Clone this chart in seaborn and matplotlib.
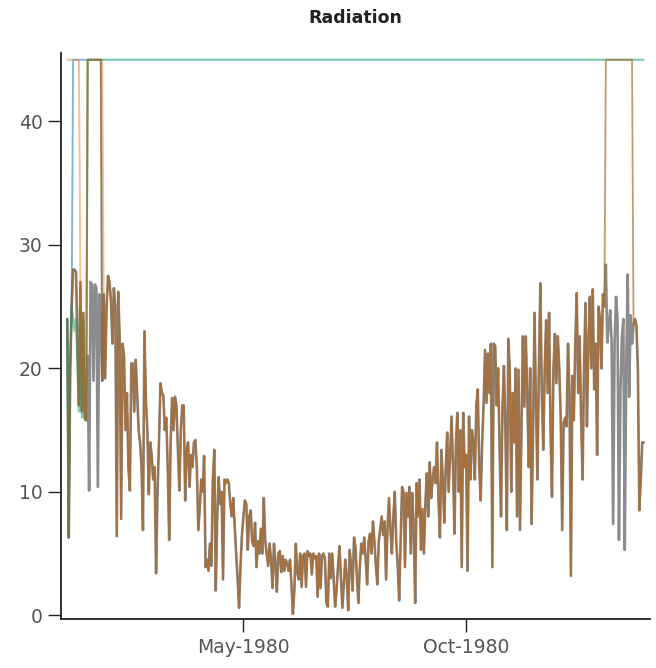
import numpy as np
import pandas as pd
import matplotlib
matplotlib.use("Agg")
import matplotlib.pyplot as plt
import matplotlib.dates as mdates
import seaborn as sns

# ---------------------------
# Data (daily radiation)
# ---------------------------

start_date = "1980-01-01"
cap_value = 45

jan_1980 = [24, 6.3, 20, 25, 28, 28, 27.8, 22, 17, 27, 16.5, 24.5, 16, 15.8, 21,
            10.1, 27, 26.8, 19, 26.8, 26.5, 10.4, 26, 24, 19, 26, 19.2, 25, 27.5, 27, 25.5]
feb_1980 = [22, 26.5, 25, 6.4, 26.2, 22.4, 7.8, 22, 21, 15, 18, 12, 10.1, 20.4, 20.4,
            16.5, 20.7, 18, 15, 14, 12, 6.9, 23, 17.5, 15, 9.8, 14, 12.9, 11]
mar_1980 = [12, 3.4, 10, 14, 18.8, 18, 17.8, 15, 16, 12, 6.1, 14, 17.6, 15, 17.7,
            17, 13.4, 10.1, 15, 17, 17, 9.3, 13.4, 14, 10.4, 13, 12, 14, 14.2, 12, 6.9]
apr_1980 = [8.6, 11, 10, 12.9, 3.9, 4.5, 3.6, 5.8, 4, 11, 13.4, 2, 8, 11.2, 9,
            10, 2.9, 11, 10.7, 11, 10.7, 9, 8, 9.5, 7.2, 5, 3, 0.6, 4, 6.5]
may_1980 = [8, 9.3, 9, 5.3, 8, 8.5, 6, 5.6, 7.5, 3.9, 6, 5, 7, 5, 9.5,
            6, 5, 4, 5.8, 4.5, 2.2, 5.8, 4.2, 1.9, 5, 5.2, 3.5, 4.8, 3.6, 4.5, 4.2]
jun_1980 = [3.6, 4.5, 2.5, 0.1, 2, 5.8, 3.5, 2.9, 5, 2.3, 4.8, 5, 2.3, 5.2, 4.8,
            5, 3.3, 5, 4.6, 4.8, 1.5, 5, 2.2, 4.8, 5, 4.6, 1, 0.7, 5, 3]
jul_1980 = [5, 3, 0.7, 2, 4, 5.6, 3, 0.6, 2.5, 4.5, 3, 0.4, 5.3, 4, 2,
            6.3, 5.5, 3, 1, 4, 5.8, 5, 6.3, 4.5, 2.5, 6, 6.6, 5, 7.6, 6, 4]
aug_1980 = [2.5, 6, 7, 8, 6.5, 7.6, 2.9, 7, 9.5, 7, 5, 8, 10, 6, 4,
            1.2, 6, 10.4, 10, 3.9, 9.9, 8, 10.4, 5, 9.9, 7, 1, 10.7, 8, 11, 5.3]
sep_1980 = [8.6, 5, 9, 11.5, 8, 12.4, 9.5, 11, 12, 10.7, 14, 9.5, 6.3, 13.4, 11,
            7.5, 12, 14.8, 10, 13, 16.1, 12, 6.6, 14, 16.4, 10, 15, 3.9, 16.4, 12]
oct_1980 = [13, 3.6, 16.1, 11, 15, 14, 11, 17, 18.3, 12, 9.3, 14, 17, 21.5, 17.2,
            21.2, 18, 22, 3.9, 22, 21.8, 17, 20, 13.4, 8, 17, 20.2, 15, 6.9, 22.4, 19.9]
nov_1980 = [10, 18, 14, 20, 8, 19.9, 6.9, 15, 22.6, 16.9, 22.6, 18, 12, 20, 7.4,
            15, 24.5, 17, 11, 20, 26.9, 18, 13.4, 20, 23.9, 18, 24.5, 15, 9.6, 20]
dec_1980 = [22.8, 18.8, 22.6, 20, 16, 6.9, 15.6, 16, 15.3, 22, 18, 3.2, 19.4, 15.8, 22,
            26.1, 18, 22.6, 16, 11, 20, 25.3, 15.3, 22, 25.8, 20, 26.4, 18.3, 22, 13, 25]
jan_1981 = [24, 20, 26, 25, 28.4, 22.1, 23.5, 24.7, 22, 7.4, 22, 25.8, 24, 6.1, 18,
            22.5, 24, 5.3, 20, 27.6, 17.7, 24.3, 22, 23.5, 24, 23.5, 20, 8.5, 11, 14, 14]

# early days of the green series, before it sits at the cap
teal_early = [24, 6.3, 20, 25, 24, 23, 24, 20, 16.5, 24.8, 16, 24, 15.8, 15.8]

# day ranges (inclusive) where each series sits at the cap value
blue_cap_spans = [(4, 23)]
peach_cap_spans = [(0, 8), (14, 24)]
brown_cap_spans = [(14, 23), (370, 388)]
short_series_days = 27

# ---------------------------
# Build series
# ---------------------------

radiation = np.array(jan_1980 + feb_1980 + mar_1980 + apr_1980 + may_1980 + jun_1980
                     + jul_1980 + aug_1980 + sep_1980 + oct_1980 + nov_1980 + dec_1980
                     + jan_1981, dtype=float)
dates = pd.date_range(start_date, periods=len(radiation), freq="D")


def capped(values, spans):
    out = np.array(values, dtype=float)
    for a, b in spans:
        out[a:b + 1] = cap_value
    return out


blue = capped(radiation[:short_series_days], blue_cap_spans)
peach = capped(radiation[:short_series_days], peach_cap_spans)
teal = np.concatenate([teal_early, np.full(len(radiation) - len(teal_early), cap_value)])
brown = capped(radiation, brown_cap_spans)

# ---------------------------
# Plot
# ---------------------------

sns.set_style("ticks")
plt.rcParams["font.family"] = ["DejaVu Sans"]

fig = plt.figure(figsize=(6.56, 6.68), dpi=100)
ax = fig.add_axes([0.0937, 0.0734, 0.8973, 0.8473])

sns.lineplot(x=dates, y=radiation, color="#8c8c8c", lw=1.9, ax=ax)
sns.lineplot(x=dates[:short_series_days], y=blue, color="#0173b2", alpha=0.5, lw=1.4, ax=ax)
sns.lineplot(x=dates[:short_series_days], y=peach, color="#e8803a", alpha=0.5, lw=1.4, ax=ax)
sns.lineplot(x=dates, y=teal, color="#029e73", alpha=0.5, lw=1.6, ax=ax)
sns.lineplot(x=dates, y=brown, color="#b0621a", alpha=0.65, lw=1.3, ax=ax)

ax.set_xlim(dates[0] - pd.Timedelta(days=4), dates[-1] + pd.Timedelta(days=4.4))
ax.set_ylim(-0.3, 45.55)
ax.set_yticks([0, 10, 20, 30, 40])
ax.xaxis.set_major_locator(mdates.MonthLocator(bymonth=[5, 10]))
ax.xaxis.set_major_formatter(mdates.DateFormatter("%b-%Y"))
ax.set_xlabel("")
ax.set_ylabel("")

sns.despine(ax=ax)
for side in ["left", "bottom"]:
    ax.spines[side].set_color("#222222")
    ax.spines[side].set_linewidth(1.3)

ax.tick_params(length=9.5, width=1, color="#222222", labelsize=13.5,
               labelcolor="#555555", pad=4)

fig.text(0.5423, 1 - 18 / 668, "Radiation", ha="center", va="center",
         fontsize=12.5, fontweight="bold", color="#222222")

plt.savefig("out.png", dpi=100)
